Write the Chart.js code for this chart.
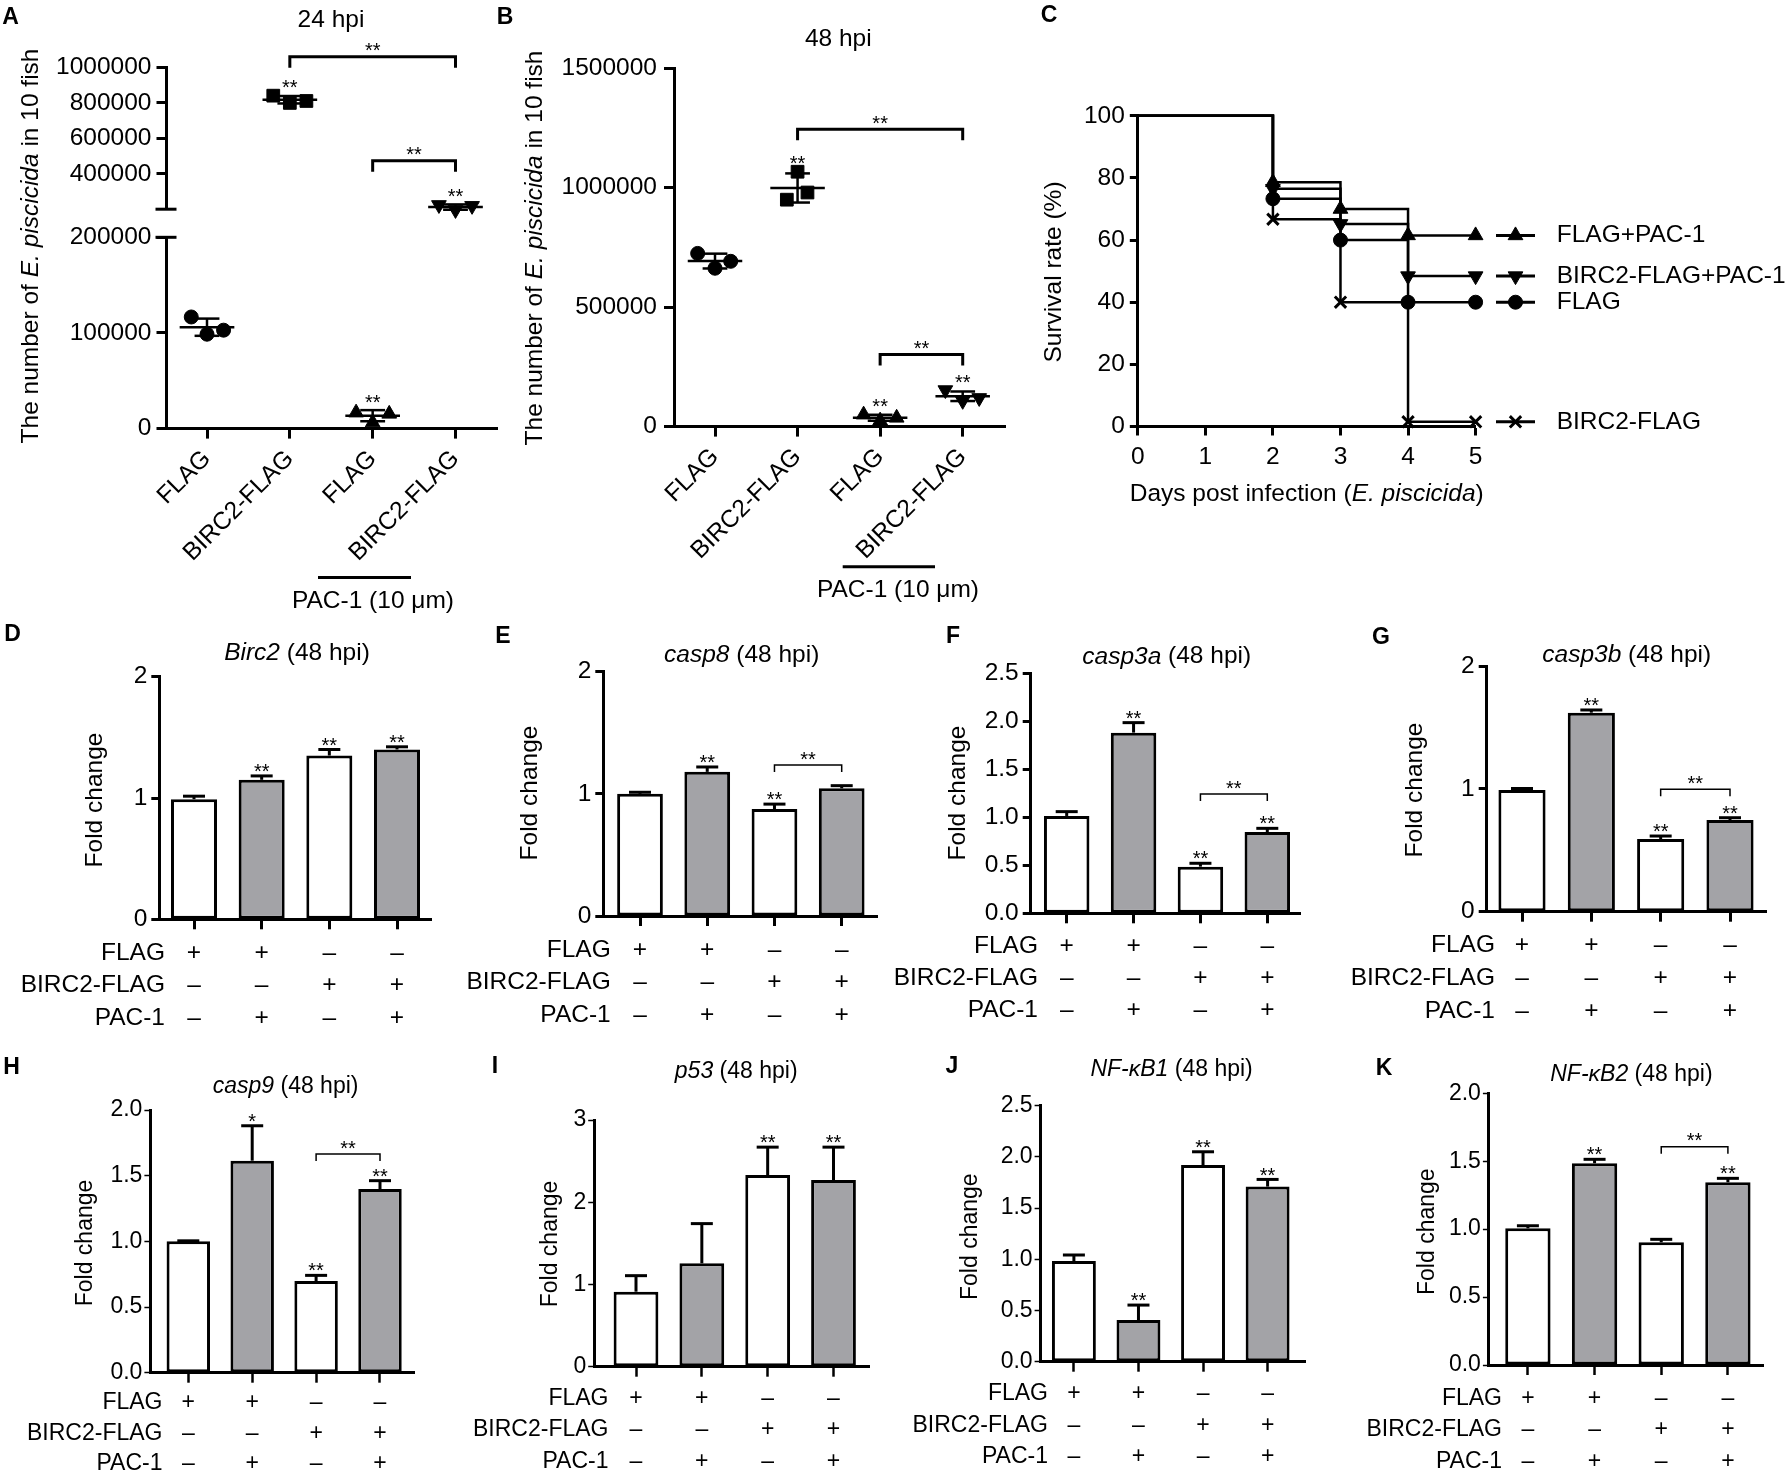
<!DOCTYPE html>
<html>
<head>
<meta charset="utf-8">
<title>BIRC2 / PAC-1 figure</title>
<script src="https://cdn.jsdelivr.net/npm/chart.js@4.4.1/dist/chart.umd.min.js"></script>
<style>
  html, body { margin: 0; padding: 0; background: #fff; }
  #fig { position: relative; width: 1791px; height: 1473px; overflow: hidden; background: #fff; }
  #fig canvas { position: absolute; left: 0; top: 0; }
</style>
</head>
<body>
<div id="fig"></div>
<script>
/* ---------- DATA ---------- */
const groupNames = ["FLAG", "BIRC2-FLAG", "FLAG", "BIRC2-FLAG"];

// A: E. piscicida per 10 fish, 24 hpi (3 replicates per group)
const count24 = [
  [116700, 98700, 102900],
  [841000, 800000, 811000],
  [16700, 6300, 15400],
  [224000, 196000, 219000],
];
const count24Mean = [106000, 818000, 13500, 212000];
const count24Sd = [9000, 21000, 5800, 15000];
const count24Stars = ["", "**", "**", "**"];
const count24Brackets = [[1, 3, 1061000], [2, 3, 474000]];
const count24LowRange = [0, 200000];
const count24HighRange = [200000, 1000000];
const count24LowTicks = [0, 100000, 200000];
const count24HighTicks = [400000, 600000, 800000, 1000000];

// B: 48 hpi
const count48 = [
  [725000, 663000, 692000],
  [950000, 1067000, 980000],
  [50000, 25000, 36700],
  [153000, 108000, 120000],
];
const count48Mean = [693000, 999000, 37000, 127000];
const count48Sd = [31000, 61000, 12500, 20000];
const count48Stars = ["", "**", "**", "**"];
const count48Brackets = [[1, 3, 1245000], [2, 3, 302000]];
const count48Ticks = [0, 500000, 1000000, 1500000];

// C: survival (%)
const survivalDays = [0, 2, 3, 4, 5];
const survivalNames = ["FLAG+PAC-1", "BIRC2-FLAG+PAC-1", "FLAG", "BIRC2-FLAG"];
const survivalFlagPac = [100, 78.6, 70, 61.5, 61.5];
const survivalBirc2Pac = [100, 76.5, 65.2, 48.4, 48.4];
const survivalFlag = [100, 73.3, 60, 40, 40];
const survivalBirc2 = [100, 66.7, 40, 1.5, 1.5];
const dayTicks = [0, 1, 2, 3, 4, 5];
const survivalTicks = [0, 20, 40, 60, 80, 100];

// D-K: fold change at 48 hpi
const rowNames = ["FLAG", "BIRC2-FLAG", "PAC-1"];
const rowFlag = ["+", "+", "\u2013", "\u2013"];
const rowBirc2 = ["\u2013", "\u2013", "+", "+"];
const rowPac = ["\u2013", "+", "\u2013", "+"];

const birc2Fold = [0.99, 1.15, 1.35, 1.40];
const birc2Err = [0.025, 0.032, 0.05, 0.022];
const birc2Stars = ["", "**", "**", "**"];

const casp8Fold = [1.0, 1.18, 0.876, 1.045];
const casp8Err = [0.013, 0.04, 0.04, 0.022];
const casp8Stars = ["", "**", "**", ""];

const casp3aFold = [1.014, 1.882, 0.486, 0.847];
const casp3aErr = [0.045, 0.104, 0.035, 0.038];
const casp3aStars = ["", "**", "**", "**"];

const casp3bFold = [0.99, 1.62, 0.592, 0.746];
const casp3bErr = [0.013, 0.022, 0.024, 0.019];
const casp3bStars = ["", "**", "**", "**"];

const casp9Fold = [1.0, 1.614, 0.698, 1.398];
const casp9Err = [0.004, 0.266, 0.043, 0.064];
const casp9Stars = ["", "*", "**", "**"];

const p53Fold = [0.912, 1.257, 2.33, 2.27];
const p53Err = [0.195, 0.483, 0.34, 0.40];
const p53Stars = ["", "", "**", "**"];

const nfkb1Fold = [0.983, 0.407, 1.92, 1.71];
const nfkb1Err = [0.059, 0.146, 0.13, 0.07];
const nfkb1Stars = ["", "**", "**", "**"];

const nfkb2Fold = [1.006, 1.485, 0.903, 1.345];
const nfkb2Err = [0.019, 0.029, 0.022, 0.029];
const nfkb2Stars = ["", "**", "", "**"];

const ticks0to2 = [0, 1, 2];
const ticks0to25 = [0, 0.5, 1, 1.5, 2, 2.5];
const ticks0to3 = [0, 1, 2, 3];
const ticks0to2h = [0, 0.5, 1, 1.5, 2];

/* ---------- SETUP ---------- */
const W = 1791, H = 1473;
const FONT = '"Liberation Sans", Arial, Helvetica, sans-serif';
const GREY = "#a3a3a7";
const barFill = ["#ffffff", GREY, "#ffffff", GREY];

Chart.defaults.font.family = FONT;
Chart.defaults.color = "#000";
Chart.defaults.animation = false;
Chart.defaults.plugins.legend.display = false;
Chart.defaults.plugins.tooltip.enabled = false;

const fig = document.getElementById("fig");

function font(size, style) {
  return (style ? style + " " : "") + size + "px " + FONT;
}

function makeChart(config) {
  const canvas = document.createElement("canvas");
  canvas.width = W;
  canvas.height = H;
  canvas.style.width = W + "px";
  canvas.style.height = H + "px";
  fig.appendChild(canvas);
  config.options.responsive = false;
  config.options.events = [];
  return new Chart(canvas.getContext("2d"), config);
}

// the y box fills everything left of the plot, the x box everything below it,
// so the plot area lands exactly on `area` and tick labels are never clipped
function fitTo(area) {
  return (scale) => {
    if (scale.options.display === false) return;
    if (scale.isHorizontal()) scale.height = H - area.B;
    else scale.width = area.L;
    scale.paddingLeft = scale.paddingRight = scale.paddingTop = scale.paddingBottom = 0;
  };
}

function tickValues(values) {
  return (scale) => {
    scale.ticks = values.map((v) => ({ value: v }));
  };
}

function padding(area, hiddenX) {
  return { left: 0, top: area.T, right: W - area.R, bottom: hiddenX ? H - area.B : 0 };
}

function axis(position, range, ticks, area, st) {
  return {
    type: "linear",
    position,
    display: st.display !== false,
    min: range[0],
    max: range[1],
    offset: false,
    afterBuildTicks: tickValues(ticks),
    afterFit: fitTo(area),
    border: { display: true, color: "#000", width: 3 },
    grid: {
      display: true, offset: false, drawOnChartArea: false, drawTicks: true,
      tickLength: st.tl, tickWidth: st.tw, tickColor: "#000",
    },
    ticks: {
      autoSkip: false, padding: st.pad, color: "#000",
      minRotation: st.rot || 0, maxRotation: st.rot || 0,
      font: { size: st.size, lineHeight: st.lh || 1.2 },
      callback: st.fmt,
    },
  };
}

// group axis: linear scale whose ticks 0..3 sit on the group centres
function groupRange(lay, area) {
  const s = (lay.c3 - lay.c0) / 3;
  return [-(lay.c0 - area.L) / s, 3 + (area.R - lay.c3) / s];
}

/* ---------- DRAW HELPERS ---------- */
function seg(ctx, x1, y1, x2, y2) {
  ctx.beginPath();
  ctx.moveTo(x1, y1);
  ctx.lineTo(x2, y2);
  ctx.stroke();
}

function star(ctx, txt, cx, cy, size) {
  ctx.font = font(size);
  ctx.textAlign = "center";
  ctx.textBaseline = "alphabetic";
  ctx.fillText(txt, cx, cy + size * 0.58);
}

function letter(ctx, txt, pos) {
  ctx.font = font(23, "bold");
  ctx.textAlign = "center";
  ctx.textBaseline = "middle";
  ctx.fillText(txt, pos[0], pos[1]);
}

// mixed italic / roman text centred on (cx, cy)
function rich(ctx, parts, cx, cy, size, rot) {
  ctx.save();
  ctx.translate(cx, cy);
  if (rot) ctx.rotate(rot);
  ctx.textBaseline = "middle";
  ctx.textAlign = "left";
  let total = 0;
  const widths = parts.map(([t, it]) => {
    ctx.font = font(size, it ? "italic" : "");
    const w = ctx.measureText(t).width;
    total += w;
    return w;
  });
  let xx = -total / 2;
  parts.forEach(([t, it], k) => {
    ctx.font = font(size, it ? "italic" : "");
    ctx.fillText(t, xx, 0);
    xx += widths[k];
  });
  ctx.restore();
}

function bracket(ctx, x, y, b, lw, arm) {
  const [i, j, at] = b;
  const x1 = x.getPixelForValue(i);
  const x2 = x.getPixelForValue(j);
  const yb = y.getPixelForValue(at);
  ctx.lineWidth = lw;
  ctx.beginPath();
  ctx.moveTo(x1, yb + arm);
  ctx.lineTo(x1, yb);
  ctx.lineTo(x2, yb);
  ctx.lineTo(x2, yb + arm);
  ctx.stroke();
  star(ctx, "**", (x1 + x2) / 2, yb - 11, 20);
}

function marker(ctx, shape, x, y) {
  ctx.lineWidth = shape.border;
  if (Chart.helpers && Chart.helpers.drawPoint) {
    Chart.helpers.drawPoint(ctx, {
      pointStyle: shape.pointStyle, radius: shape.radius,
      rotation: shape.rotation, borderWidth: shape.border,
    }, x, y);
  }
}

/* ---------- PANELS A & B (dot plots) ---------- */
const dotShapes = [
  { pointStyle: "circle", radius: 7, rotation: 0, border: 1 },
  { pointStyle: "rect", radius: 9, rotation: 0, border: 1 },
  { pointStyle: "triangle", radius: 8.5, rotation: 0, border: 1 },
  { pointStyle: "triangle", radius: 8.5, rotation: 180, border: 1 },
];

const yTitleCount = [["The number of ", false], ["E. piscicida", true], [" in 10 fish", false]];

function dotChart(d) {
  const lay = d.lay;
  const datasets = d.groups.map((g) => ({
    type: "scatter",
    data: d.points[g].map((v, k) => ({ x: g + lay.jitter[g][k], y: v })),
    pointStyle: dotShapes[g].pointStyle,
    pointRadius: dotShapes[g].radius,
    pointRotation: dotShapes[g].rotation,
    pointBackgroundColor: "#000",
    pointBorderColor: "#000",
    pointBorderWidth: 1,
    showLine: false,
    clip: false,
  }));
  makeChart({
    type: "scatter",
    data: { datasets },
    options: {
      layout: { padding: padding(d.area, !d.showX) },
      scales: {
        x: axis("bottom", groupRange(lay, d.area), [0, 1, 2, 3], d.area, {
          display: d.showX, size: 24.5, tl: 10, tw: 3, pad: 6, rot: 45,
          fmt: (v) => groupNames[v],
        }),
        y: axis("left", d.range, d.ticks, d.area, {
          size: 24.5, tl: 10, tw: 3, pad: lay.ypad, fmt: (v) => String(v),
        }),
      },
    },
    plugins: [{
      id: "dotDecor",
      afterDatasetsDraw(chart) {
        const { ctx, scales: { x, y } } = chart;
        const unit = x.getPixelForValue(1) - x.getPixelForValue(0);
        ctx.save();
        ctx.strokeStyle = "#000";
        ctx.fillStyle = "#000";
        d.groups.forEach((g) => {
          const cx = x.getPixelForValue(g);
          const m = y.getPixelForValue(d.mean[g]);
          const hi = y.getPixelForValue(d.mean[g] + d.sd[g]);
          const lo = y.getPixelForValue(d.mean[g] - d.sd[g]);
          ctx.lineWidth = 2.5;
          seg(ctx, cx - 0.33 * unit, m, cx + 0.33 * unit, m);
          seg(ctx, cx, hi, cx, lo);
          seg(ctx, cx - 0.15 * unit, hi, cx + 0.15 * unit, hi);
          seg(ctx, cx - 0.15 * unit, lo, cx + 0.15 * unit, lo);
          if (d.stars[g]) {
            const top = Math.min(hi, y.getPixelForValue(Math.max(...d.points[g])));
            star(ctx, d.stars[g], cx, top - 13, 20);
          }
        });
        (d.brackets || []).forEach((b) => bracket(ctx, x, y, b, 3, 11));
        // axis break caps
        ctx.lineWidth = 3;
        (d.breaks || []).forEach((side) => {
          const yy = side === "top" ? y.top : y.bottom;
          seg(ctx, x.left - 11, yy, x.left + 10, yy);
        });
        ctx.restore();
      },
      afterDraw(chart) {
        if (!d.texts) return;
        const ctx = chart.ctx;
        ctx.save();
        ctx.fillStyle = "#000";
        ctx.strokeStyle = "#000";
        letter(ctx, lay.id, lay.letter);
        rich(ctx, [[lay.title, false]], lay.titlePos[0], lay.titlePos[1], 24.5, 0);
        rich(ctx, yTitleCount, lay.yTitle[0], lay.yTitle[1], 24.5, -Math.PI / 2);
        ctx.lineWidth = 3;
        seg(ctx, lay.pacLine[0], lay.pacLine[2], lay.pacLine[1], lay.pacLine[2]);
        rich(ctx, [["PAC-1 (10 \u03bcm)", false]], lay.pacText[0], lay.pacText[1], 24.5, 0);
        ctx.restore();
      },
    }],
  });
}

const layA = {
  id: "A", c0: 207, c3: 455.5, ypad: 5,
  low: { L: 166.5, T: 237.3, R: 497.5, B: 428.6 },
  high: { L: 166.5, T: 67.5, R: 497.5, B: 209.2 },
  letter: [10.5, 18], title: "24 hpi", titlePos: [331, 19.8], yTitle: [31, 246],
  pacLine: [318, 411, 577.4], pacText: [373, 601],
  jitter: [[-0.19, 0, 0.2], [-0.2, 0, 0.2], [-0.2, 0, 0.2], [-0.2, 0, 0.2]],
};
const layB = {
  id: "B", c0: 715, c3: 962.7, ypad: 7,
  area: { L: 674, T: 68.3, R: 1005, B: 426.6 },
  letter: [505, 18], title: "48 hpi", titlePos: [838.3, 39.7], yTitle: [535, 248],
  pacLine: [842.7, 935, 566.7], pacText: [898, 590],
  jitter: [[-0.21, 0, 0.19], [-0.13, 0, 0.12], [-0.2, 0, 0.2], [-0.21, 0, 0.2]],
};

// A, lower segment (0-200000) with the group axis
dotChart({
  lay: layA, area: layA.low, showX: true, groups: [0, 2],
  points: count24, mean: count24Mean, sd: count24Sd, stars: count24Stars,
  range: count24LowRange, ticks: count24LowTicks, breaks: ["top"], texts: true,
});
// A, upper segment (200000-1000000)
dotChart({
  lay: layA, area: layA.high, showX: false, groups: [1, 3],
  points: count24, mean: count24Mean, sd: count24Sd, stars: count24Stars,
  range: count24HighRange, ticks: count24HighTicks, breaks: ["bottom"],
  brackets: count24Brackets,
});
// B
dotChart({
  lay: layB, area: layB.area, showX: true, groups: [0, 1, 2, 3],
  points: count48, mean: count48Mean, sd: count48Sd, stars: count48Stars,
  range: [0, 1500000], ticks: count48Ticks, brackets: count48Brackets, texts: true,
});

/* ---------- PANEL C (survival) ---------- */
const survivalSeries = [survivalFlagPac, survivalBirc2Pac, survivalFlag, survivalBirc2];
const survivalShapes = [
  { pointStyle: "triangle", radius: 8.5, rotation: 0, border: 1 },
  { pointStyle: "triangle", radius: 8.5, rotation: 180, border: 1 },
  { pointStyle: "circle", radius: 7, rotation: 0, border: 1 },
  { pointStyle: "crossRot", radius: 8, rotation: 0, border: 3 },
];
const layC = {
  area: { L: 1137.8, T: 115.8, R: 1475.6, B: 426.5 },
  letter: [1049, 16], yTitle: [1054, 272], xTitle: [1306.7, 494.6],
  legendLine: [1496, 1535], legendText: 1556.7,
};

makeChart({
  type: "line",
  data: {
    datasets: survivalSeries.map((vals, k) => ({
      data: survivalDays.map((d, i) => ({ x: d, y: vals[i] })),
      stepped: true,
      borderColor: "#000",
      borderWidth: 2.5,
      fill: false,
      pointStyle: survivalShapes[k].pointStyle,
      pointRotation: survivalShapes[k].rotation,
      pointRadius: survivalDays.map((d) => (d === 0 ? 0 : survivalShapes[k].radius)),
      pointBackgroundColor: "#000",
      pointBorderColor: "#000",
      pointBorderWidth: survivalShapes[k].border,
      clip: false,
    })),
  },
  options: {
    layout: { padding: padding(layC.area, false) },
    scales: {
      x: axis("bottom", [0, 5], dayTicks, layC.area, { size: 24.5, tl: 9, tw: 3, pad: 7, fmt: (v) => String(v) }),
      y: axis("left", [0, 100], survivalTicks, layC.area, { size: 24.5, tl: 8, tw: 3, pad: 5, fmt: (v) => String(v) }),
    },
  },
  plugins: [{
    id: "survivalDecor",
    afterDraw(chart) {
      const { ctx, scales: { y } } = chart;
      ctx.save();
      ctx.fillStyle = "#000";
      ctx.strokeStyle = "#000";
      letter(ctx, "C", layC.letter);
      rich(ctx, [["Survival rate (%)", false]], layC.yTitle[0], layC.yTitle[1], 24.5, -Math.PI / 2);
      rich(ctx, [["Days post infection (", false], ["E. piscicida", true], [")", false]],
        layC.xTitle[0], layC.xTitle[1], 24.5, 0);
      survivalSeries.forEach((vals, k) => {
        const yy = y.getPixelForValue(vals[vals.length - 1]);
        ctx.lineWidth = 3;
        seg(ctx, layC.legendLine[0], yy, layC.legendLine[1], yy);
        marker(ctx, survivalShapes[k], (layC.legendLine[0] + layC.legendLine[1]) / 2, yy);
        ctx.font = font(24.5);
        ctx.textAlign = "left";
        ctx.textBaseline = "middle";
        ctx.fillText(survivalNames[k], layC.legendText, yy);
      });
      ctx.restore();
    },
  }],
});

/* ---------- PANELS D-K (bar charts) ---------- */
const ROW12 = { size: 24.5, ytl: 8, ytw: 3, ypad: 4, xtw: 3 };
const ROW3 = { size: 23, ytl: 6, ytw: 1.5, ypad: 2, xtw: 2.5 };
const tableLabels = [0, 1, 2, 3].map((i) => [rowFlag[i], rowBirc2[i], rowPac[i]]);

function barPanel(p) {
  const lay = p.lay;
  const st = lay.small ? ROW3 : ROW12;
  const lh = lay.rowGap;
  const pad = lay.row0 - 10 - lh / 2;
  const dec = p.ticks.some((t) => t % 1 !== 0) ? 1 : 0;
  makeChart({
    type: "bar",
    data: {
      datasets: [{
        data: p.values.map((v, i) => ({ x: i, y: v })),
        backgroundColor: barFill,
        borderColor: "#000",
        borderWidth: 3,
        borderSkipped: false,
        barPercentage: 0.68,
        categoryPercentage: 1,
      }],
    },
    options: {
      layout: { padding: padding(lay.area, false) },
      scales: {
        x: axis("bottom", groupRange(lay, lay.area), [0, 1, 2, 3], lay.area, {
          size: st.size, tl: 10, tw: st.xtw, pad, lh: lh / st.size, fmt: (v) => tableLabels[v],
        }),
        y: axis("left", [p.ticks[0], p.ticks[p.ticks.length - 1]], p.ticks, lay.area, {
          size: st.size, tl: st.ytl, tw: st.ytw, pad: st.ypad, fmt: (v) => v.toFixed(dec),
        }),
      },
    },
    plugins: [{
      id: "barDecor",
      afterDatasetsDraw(chart) {
        const { ctx, scales: { x, y } } = chart;
        ctx.save();
        ctx.strokeStyle = "#000";
        ctx.fillStyle = "#000";
        p.values.forEach((v, i) => {
          const cx = x.getPixelForValue(i);
          const top = y.getPixelForValue(v);
          const cap = y.getPixelForValue(v + p.err[i]);
          ctx.lineWidth = 3;
          seg(ctx, cx, top, cx, cap);
          seg(ctx, cx - 11, cap, cx + 11, cap);
          if (p.stars[i]) star(ctx, p.stars[i], cx, cap - 9.5, 20);
        });
        if (p.bracket) bracket(ctx, x, y, p.bracket, 1.5, 7);
        ctx.restore();
      },
      afterDraw(chart) {
        const { ctx, scales: { x } } = chart;
        ctx.save();
        ctx.fillStyle = "#000";
        letter(ctx, lay.id, lay.letter);
        rich(ctx, [[p.gene, true], [" (48 hpi)", false]], lay.title[0], lay.title[1], st.size, 0);
        rich(ctx, [["Fold change", false]], lay.yTitle[0], lay.yTitle[1], st.size, -Math.PI / 2);
        ctx.font = font(st.size);
        ctx.textAlign = "right";
        ctx.textBaseline = "middle";
        rowNames.forEach((name, k) => {
          ctx.fillText(name, lay.tableX, x.top + 10 + pad + lh / 2 + k * lh);
        });
        ctx.restore();
      },
    }],
  });
}

const barLayouts = {
  D: { id: "D", area: { L: 159.3, T: 676.7, R: 431.7, B: 919.3 }, c0: 194, c3: 397,
       letter: [12.5, 635], title: [297, 653], yTitle: [95, 800], tableX: 165, row0: 33.7, rowGap: 32.5 },
  E: { id: "E", area: { L: 603.3, T: 671.7, R: 877, B: 916 }, c0: 640, c3: 841.7,
       letter: [503, 637], title: [741.7, 655], yTitle: [530, 793], tableX: 610.7, row0: 34, rowGap: 32.5 },
  F: { id: "F", area: { L: 1030.7, T: 673.3, R: 1300.7, B: 913.3 }, c0: 1066.7, c3: 1267.3,
       letter: [953, 637], title: [1166.7, 656.7], yTitle: [958, 793], tableX: 1038, row0: 33.4, rowGap: 31.7 },
  G: { id: "G", area: { L: 1486.7, T: 666, R: 1766.7, B: 911.7 }, c0: 1522, c3: 1730,
       letter: [1381, 638], title: [1626.7, 655], yTitle: [1415, 790], tableX: 1495, row0: 33.3, rowGap: 33 },
  H: { id: "H", area: { L: 150.4, T: 1110, R: 414.5, B: 1372.7 }, c0: 188.3, c3: 380, small: true,
       letter: [11.5, 1068], title: [285.6, 1086.7], yTitle: [86, 1243], tableX: 162.5, row0: 30.3, rowGap: 30.2 },
  I: { id: "I", area: { L: 594.2, T: 1120, R: 869.7, B: 1366.7 }, c0: 636, c3: 833.5, small: true,
       letter: [495, 1066.7], title: [736.2, 1071.7], yTitle: [551, 1244], tableX: 608.5, row0: 31.6, rowGap: 31.7 },
  J: { id: "J", area: { L: 1040.6, T: 1105.7, R: 1305, B: 1361.7 }, c0: 1073.9, c3: 1267.6, small: true,
       letter: [952, 1066.7], title: [1171.6, 1070], yTitle: [970.5, 1236.7], tableX: 1048, row0: 32.3, rowGap: 31.4 },
  K: { id: "K", area: { L: 1488.9, T: 1093.3, R: 1763.6, B: 1365 }, c0: 1527.9, c3: 1727.9, small: true,
       letter: [1384, 1068.3], title: [1631.4, 1075], yTitle: [1427.4, 1231.7], tableX: 1502, row0: 33.3, rowGap: 31.7 },
};

barPanel({ lay: barLayouts.D, gene: "Birc2", values: birc2Fold, err: birc2Err, stars: birc2Stars, ticks: ticks0to2 });
barPanel({ lay: barLayouts.E, gene: "casp8", values: casp8Fold, err: casp8Err, stars: casp8Stars, ticks: ticks0to2, bracket: [2, 3, 1.236] });
barPanel({ lay: barLayouts.F, gene: "casp3a", values: casp3aFold, err: casp3aErr, stars: casp3aStars, ticks: ticks0to25, bracket: [2, 3, 1.243] });
barPanel({ lay: barLayouts.G, gene: "casp3b", values: casp3bFold, err: casp3bErr, stars: casp3bStars, ticks: ticks0to2, bracket: [2, 3, 0.996] });
barPanel({ lay: barLayouts.H, gene: "casp9", values: casp9Fold, err: casp9Err, stars: casp9Stars, ticks: ticks0to2h, bracket: [2, 3, 1.665] });
barPanel({ lay: barLayouts.I, gene: "p53", values: p53Fold, err: p53Err, stars: p53Stars, ticks: ticks0to3 });
barPanel({ lay: barLayouts.J, gene: "NF-\u03baB1", values: nfkb1Fold, err: nfkb1Err, stars: nfkb1Stars, ticks: ticks0to25 });
barPanel({ lay: barLayouts.K, gene: "NF-\u03baB2", values: nfkb2Fold, err: nfkb2Err, stars: nfkb2Stars, ticks: ticks0to2h, bracket: [2, 3, 1.607] });
</script>
</body>
</html>
